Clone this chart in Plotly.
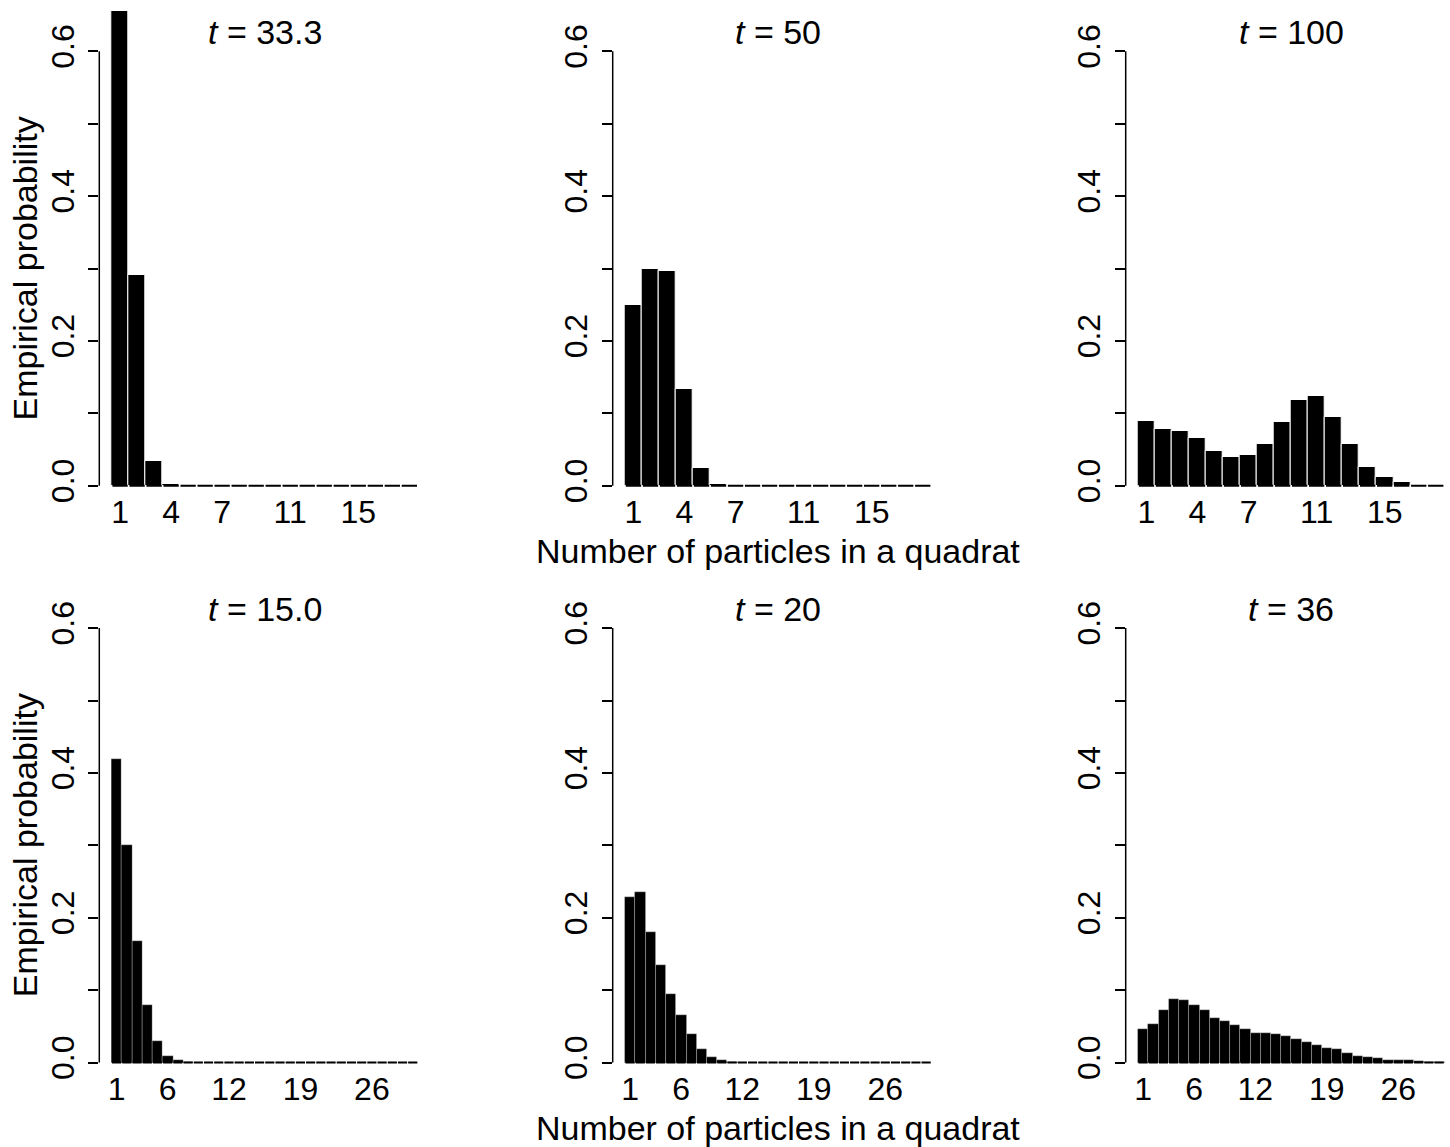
import plotly.graph_objects as go

W, H = 1450, 1147

# ---------------- data ----------------
counts_top = [1, 2, 3, 4, 5, 6, 7, 8, 9, 10, 11, 12, 13, 14, 15, 16, 17, 18]
counts_bottom = [1, 2, 3, 4, 5, 6, 7, 8, 9, 10, 11, 12, 13, 14, 15,
                 16, 17, 18, 19, 20, 21, 22, 23, 24, 25, 26, 27, 28, 29, 30]

prob_t33 = [0.656, 0.291, 0.034, 0.002, 0, 0, 0, 0, 0, 0, 0, 0, 0, 0, 0, 0, 0, 0]
prob_t50 = [0.249, 0.300, 0.296, 0.134, 0.025, 0.003, 0, 0, 0, 0, 0, 0, 0, 0, 0, 0, 0, 0]
prob_t100 = [0.090, 0.079, 0.075, 0.066, 0.048, 0.039, 0.043, 0.057, 0.088,
             0.119, 0.124, 0.095, 0.057, 0.026, 0.012, 0.005, 0.001, 0]

prob_t15 = [0.419, 0.300, 0.168, 0.079, 0.030, 0.009, 0.003, 0.001, 0, 0,
            0, 0, 0, 0, 0, 0, 0, 0, 0, 0, 0, 0, 0, 0, 0, 0, 0, 0, 0, 0]
prob_t20 = [0.229, 0.235, 0.180, 0.134, 0.094, 0.065, 0.039, 0.018, 0.007, 0.003,
            0.001, 0, 0, 0, 0, 0, 0, 0, 0, 0, 0, 0, 0, 0, 0, 0, 0, 0, 0, 0]
prob_t36 = [0.046, 0.053, 0.073, 0.088, 0.086, 0.079, 0.073, 0.062, 0.058, 0.052,
            0.046, 0.041, 0.041, 0.040, 0.036, 0.032, 0.029, 0.024, 0.020, 0.018,
            0.013, 0.009, 0.007, 0.006, 0.004, 0.003, 0.003, 0.002, 0.001, 0.001]

titles_top = ["33.3", "50", "100"]
titles_bottom = ["15.0", "20", "36"]
xtick_top = [1, 4, 7, 11, 15]
xtick_bottom = [1, 6, 12, 19, 26]
ytick_vals = [0, 0.1, 0.2, 0.3, 0.4, 0.5, 0.6]
ytick_text = ["0.0", "", "0.2", "", "0.4", "", "0.6"]

ylabel = "Empirical probability"
xlabel = "Number of particles in a quadrat"

# ---------------- layout geometry (pixels) ----------------
FONT = "Liberation Sans, Arial, Helvetica, sans-serif"
axis_px = [99.3, 612.7, 1125.7]
zero_px = [485.7, 1062.5]
top_px = [0, 600]
PX_Y = 724.0
BARS_PX = 306.3
TITLE_Y = [32, 609]
XLAB_Y = [551, 1128]

panels = [
    (0, 0, counts_top, prob_t33, titles_top[0], xtick_top),
    (0, 1, counts_top, prob_t50, titles_top[1], xtick_top),
    (0, 2, counts_top, prob_t100, titles_top[2], xtick_top),
    (1, 0, counts_bottom, prob_t15, titles_bottom[0], xtick_bottom),
    (1, 1, counts_bottom, prob_t20, titles_bottom[1], xtick_bottom),
    (1, 2, counts_bottom, prob_t36, titles_bottom[2], xtick_bottom),
]

fig = go.Figure()
layout = dict(
    width=W, height=H, margin=dict(l=0, r=0, t=0, b=0),
    paper_bgcolor="white", plot_bgcolor="white",
    showlegend=False, bargap=0,
    font=dict(family=FONT, color="black", size=32),
)
annotations = []
shapes = []

for k, (row, col, cats, probs, ttl, xt) in enumerate(panels):
    idx = "" if k == 0 else str(k + 1)
    xa, ya = "x" + idx, "y" + idx
    n = len(cats)
    pxbar = BARS_PX / n
    rmin = 0.5 - 0.04 * n
    x0 = axis_px[col]
    x1 = min(x0 + 1.08 * n * pxbar, W)
    rmax = rmin + (x1 - x0) / pxbar
    yb_px = zero_px[row] + 0.024 * PX_Y
    yt_px = top_px[row]
    ymin = -0.024
    ymax = (zero_px[row] - yt_px) / PX_Y

    # baseline segments (zero-height bars drawn as flat outlines)
    sx, sy = [], []
    for c in cats:
        sx += [c - 0.45, c + 0.45, None]
        sy += [0, 0, None]
    fig.add_trace(go.Scatter(x=sx, y=sy, mode="lines",
                             line=dict(color="black", width=2),
                             xaxis=xa, yaxis=ya, hoverinfo="skip"))
    fig.add_trace(go.Bar(x=cats, y=probs, width=1,
                         marker=dict(color="black",
                                     line=dict(color="white", width=1.0 if row == 0 else 0.25)),
                         xaxis=xa, yaxis=ya))

    layout["xaxis" + idx] = dict(
        domain=[x0 / W, x1 / W], range=[rmin, rmax], anchor=ya,
        tickmode="array", tickvals=xt, ticktext=[str(v) for v in xt],
        ticks="", showline=False, showgrid=False, zeroline=False,
        tickfont=dict(size=32, family=FONT, color="black"),
        ticklabelstandoff=-13, fixedrange=True,
    )
    layout["yaxis" + idx] = dict(
        domain=[1 - yb_px / H, 1 - yt_px / H], range=[ymin, ymax], anchor=xa,
        tickmode="array", tickvals=ytick_vals, ticktext=ytick_text,
        ticks="outside", ticklen=10, tickwidth=1.5, tickcolor="black",
        tickangle=-90, showline=False, showgrid=False, zeroline=False,
        tickfont=dict(size=32, family=FONT, color="black"),
        ticklabelstandoff=2, fixedrange=True,
    )
    shapes.append(dict(type="line", xref=xa + " domain", yref=ya,
                       x0=0, x1=0, y0=0, y1=0.6,
                       line=dict(color="black", width=1.5)))

    cx = x0 + 1.08 * n * pxbar / 2
    annotations.append(dict(text="<i>t</i> = " + ttl, xref="paper", yref="paper",
                            x=cx / W, y=1 - TITLE_Y[row] / H,
                            xanchor="center", yanchor="middle", showarrow=False,
                            font=dict(size=34, family=FONT, color="black")))
    if col == 0:
        annotations.append(dict(text=ylabel, xref="paper", yref="paper",
                                x=25 / W, y=1 - (zero_px[row] - 0.3 * PX_Y) / H,
                                xanchor="center", yanchor="middle", textangle=-90,
                                showarrow=False,
                                font=dict(size=34, family=FONT, color="black")))
    if col == 1:
        annotations.append(dict(text=xlabel, xref="paper", yref="paper",
                                x=cx / W, y=1 - XLAB_Y[row] / H,
                                xanchor="center", yanchor="middle", showarrow=False,
                                font=dict(size=34, family=FONT, color="black")))

layout["annotations"] = annotations
layout["shapes"] = shapes
fig.update_layout(**layout)
fig.write_html("out.html",
               config={"displayModeBar": False},
               post_script="document.body.style.margin='0';document.body.style.padding='0';document.body.style.overflow='hidden';")
